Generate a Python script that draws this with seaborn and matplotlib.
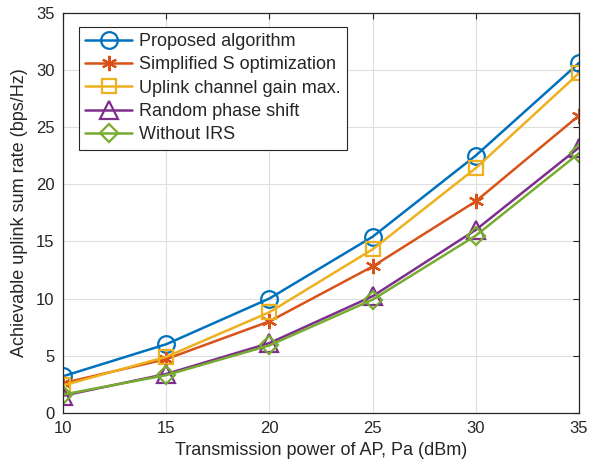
import numpy as np
import pandas as pd
import matplotlib
matplotlib.use("Agg")
import matplotlib.pyplot as plt
import seaborn as sns

power = [10, 15, 20, 25, 30, 35]
proposed = [3.2, 6.0, 10.0, 15.4, 22.5, 30.6]
simplified = [2.6, 4.7, 8.0, 12.8, 18.5, 26.0]
uplink = [2.4, 4.9, 8.8, 14.3, 21.4, 29.7]
random_phase = [1.5, 3.4, 6.1, 10.2, 16.0, 23.2]
without_irs = [1.6, 3.3, 5.9, 9.9, 15.5, 22.7]

labels = ["Proposed algorithm", "Simplified S optimization",
          "Uplink channel gain max.", "Random phase shift", "Without IRS"]
series = [proposed, simplified, uplink, random_phase, without_irs]
colors = ["#0072BD", "#D95319", "#EDB120", "#7E2F8E", "#77AC30"]
markers = ["o", "*", "s", "^", "D"]
msizes = [12, 11, 10, 13, 9.5]

sns.set_style("whitegrid")
plt.rcParams['font.family'] = ['Liberation Sans', 'DejaVu Sans']

fig = plt.figure(figsize=(6.0, 4.66), dpi=100)
ax = fig.add_axes([0.105, 0.114, 0.86, 0.859])

for lab, vals, c, m, ms in zip(labels, series, colors, markers, msizes):
    df = pd.DataFrame({"x": power, "y": vals})
    mk = m
    kw = dict(markerfacecolor="none", markeredgecolor=c, markeredgewidth=1.6)
    if m == "*":
        mk = (6, 2, 0)
        kw = dict(markerfacecolor=c, markeredgecolor=c, markeredgewidth=1.6)
    sns.lineplot(data=df, x="x", y="y", ax=ax, color=c, marker=mk,
                 markersize=ms, linewidth=1.8, label=lab, **kw)

ax.set_xlim(10, 35)
ax.set_ylim(0, 35)
ax.set_xticks([10, 15, 20, 25, 30, 35])
ax.set_yticks([0, 5, 10, 15, 20, 25, 30, 35])
ax.set_xlabel("Transmission power of AP, Pa (dBm)", fontsize=13, color="#262626", labelpad=4)
ax.set_ylabel("Achievable uplink sum rate (bps/Hz)", fontsize=13, color="#262626", labelpad=6)
ax.tick_params(axis="both", labelsize=12, colors="#262626", direction="in",
               length=4, width=0.8, top=True, right=True, labelcolor="#262626", pad=6)
ax.grid(True, color="#dfdfdf", linewidth=0.8)
for s in ax.spines.values():
    s.set_visible(True)
    s.set_color("#262626")
    s.set_linewidth(0.9)

leg = ax.legend(loc="upper left", bbox_to_anchor=(0.031, 0.965), fontsize=13,
                frameon=True, fancybox=False, edgecolor="#262626",
                handlelength=2.6, handletextpad=0.35, labelspacing=0.35,
                borderpad=0.35, borderaxespad=0.0)
leg.get_frame().set_linewidth(0.8)
leg.get_frame().set_alpha(1)

fig.savefig("out.png", dpi=100)
